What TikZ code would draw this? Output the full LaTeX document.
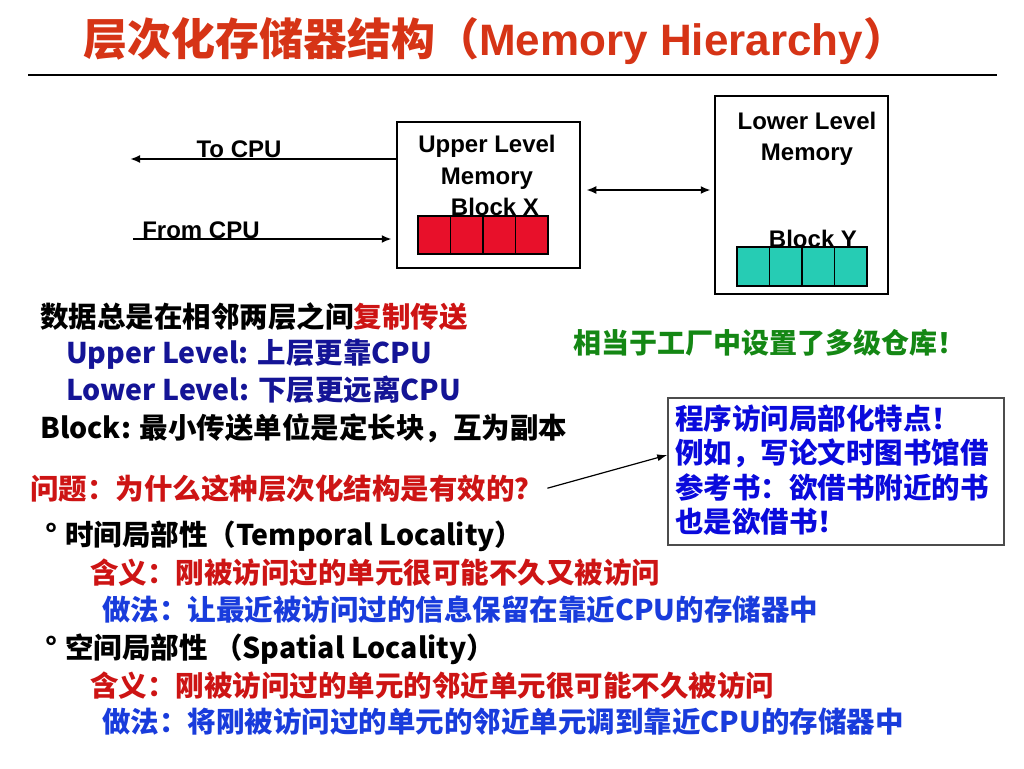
\documentclass[tikz,border=0pt]{standalone}
\usepackage{fontspec}
\setmainfont{Liberation Sans}
\newfontfamily\cjk{Noto Sans CJK SC}
\newfontfamily\arl{Liberation Sans}
\usetikzlibrary{arrows.meta}
\definecolor{ttl}{RGB}{214,52,22}
\definecolor{tred}{RGB}{205,20,20}
\definecolor{navy}{RGB}{20,20,150}
\definecolor{tblue}{RGB}{25,60,220}
\definecolor{tipblue}{RGB}{10,10,220}
\definecolor{tgreen}{RGB}{20,135,20}
\definecolor{cellred}{RGB}{232,16,42}
\definecolor{cellcyan}{RGB}{38,204,180}
\begin{document}
\begin{tikzpicture}[x=1pt,y=-1pt,
  diag/.style={font=\arl\bfseries\fontsize{24}{28}\selectfont, inner sep=0pt, anchor=base},
  txt/.style={font=\cjk\bfseries\fontsize{28.5}{34}\selectfont, inner sep=0pt, anchor=base west},
  membox/.style={draw, line width=2.5pt, inner sep=0pt},
  cellbox/.style={draw, line width=1.5pt, minimum width=32.5pt, inner sep=0pt},
  arr/.style={line width=2.5pt, -{Latex[length=10pt,width=8pt]}},
  darr/.style={line width=2.5pt, {Latex[length=10pt,width=8pt]}-{Latex[length=10pt,width=8pt]}},
  thinarr/.style={line width=1.2pt, -{Latex[length=10pt,width=7pt]}}]
\useasboundingbox[fill=white] (0,0) rectangle (1024,768);

% title
\node[anchor=base west, inner sep=0pt, text=ttl, font=\bfseries\fontsize{44}{50}\selectfont] (title) at (83,56)
  {{\cjk 层次化存储器结构（}Memory Hierarchy{\cjk ）}};
\coordinate (rl) at (28,75);
\coordinate (rr) at (997,75);
\draw[line width=2pt] (rl) -- (rr);

% memory boxes
\node[membox, minimum width=183pt, minimum height=146pt] (up) at (488.5,195) {};
\node[membox, minimum width=173pt, minimum height=198pt] (low) at (801.5,195) {};

\node[diag] (upa) at (487,152) {Upper Level};
\node[diag] (upb) at (487,184) {Memory};
\node[diag] (upc) at (495,215) {Block X};
\node[diag] (lowa) at (807,129) {Lower Level};
\node[diag] (lowb) at (807,160) {Memory};
\node[diag] (lowc) at (813,247) {Block Y};

\foreach \i in {0,...,3} {
  \node[cellbox, fill=cellred, minimum height=38pt] (x\i) at ({434.25+32.5*\i},235) {};
  \node[cellbox, fill=cellcyan, minimum height=39pt] (y\i) at ({753.25+32.5*\i},266.5) {};
}

% CPU arrows
\node[diag] (tocpu) at (239,157) {To CPU};
\node[diag] (fromcpu) at (201,238) {From CPU};
\coordinate (cpuL) at (130,159);
\coordinate (cpuF) at (133,239);
\draw[arr] ([yshift=36pt]up.west) -- (cpuL);
\draw[arr, shorten >=4pt] (cpuF) -- ([yshift=-44pt]up.west);
\draw[darr, shorten <=5pt, shorten >=3pt] ([yshift=5pt]up.east) -- ([yshift=5pt]low.west);

% text block
\node[txt] (l1) at (40,327) {数据总是在相邻两层之间\textcolor{tred}{复制传送}};
\node[txt, text=navy] (l2) at (66,363) {Upper Level: 上层更靠CPU};
\node[txt, text=navy] (l3) at (66,400) {Lower Level: 下层更远离CPU};
\node[txt] (l4) at (40,438) {Block: 最小传送单位是定长块，互为副本};
\node[txt, text=tgreen, font=\cjk\bfseries\fontsize{28}{32}\selectfont] (green) at (573,353) {相当于工厂中设置了多级仓库！};
\node[txt, text=tred] (q) at (30,499) {问题：为什么这种层次化结构是有效的？};

% tip box
\node[draw=black!70, line width=1.5pt, minimum width=336pt, minimum height=147pt, inner sep=0pt] (tip) at (836,471.5) {};
\node[anchor=west, inner sep=0pt, align=left, text=tipblue, font=\cjk\bfseries\fontsize{28.5}{34.5}\selectfont] (tiptext) at (675,470)
  {程序访问局部化特点！\\例如，写论文时图书馆借\\参考书：欲借书附近的书\\也是欲借书！};
\draw[thinarr] ([xshift=4pt]q.east) -- ([yshift=16.5pt]tip.west);

% locality
\node[txt] (t1) at (45,545) {°\hspace{8pt}时间局部性（Temporal Locality）};
\node[txt, text=tred] (m1) at (90,583) {含义：刚被访问过的单元很可能不久又被访问};
\node[txt, text=tblue] (d1) at (102,620) {做法：让最近被访问过的信息保留在靠近CPU的存储器中};
\node[txt] (t2) at (45,658) {°\hspace{8pt}空间局部性 （Spatial Locality）};
\node[txt, text=tred] (m2) at (90,696) {含义：刚被访问过的单元的邻近单元很可能不久被访问};
\node[txt, text=tblue] (d2) at (102,732) {做法：将刚被访问过的单元的邻近单元调到靠近CPU的存储器中};
\end{tikzpicture}
\end{document}
